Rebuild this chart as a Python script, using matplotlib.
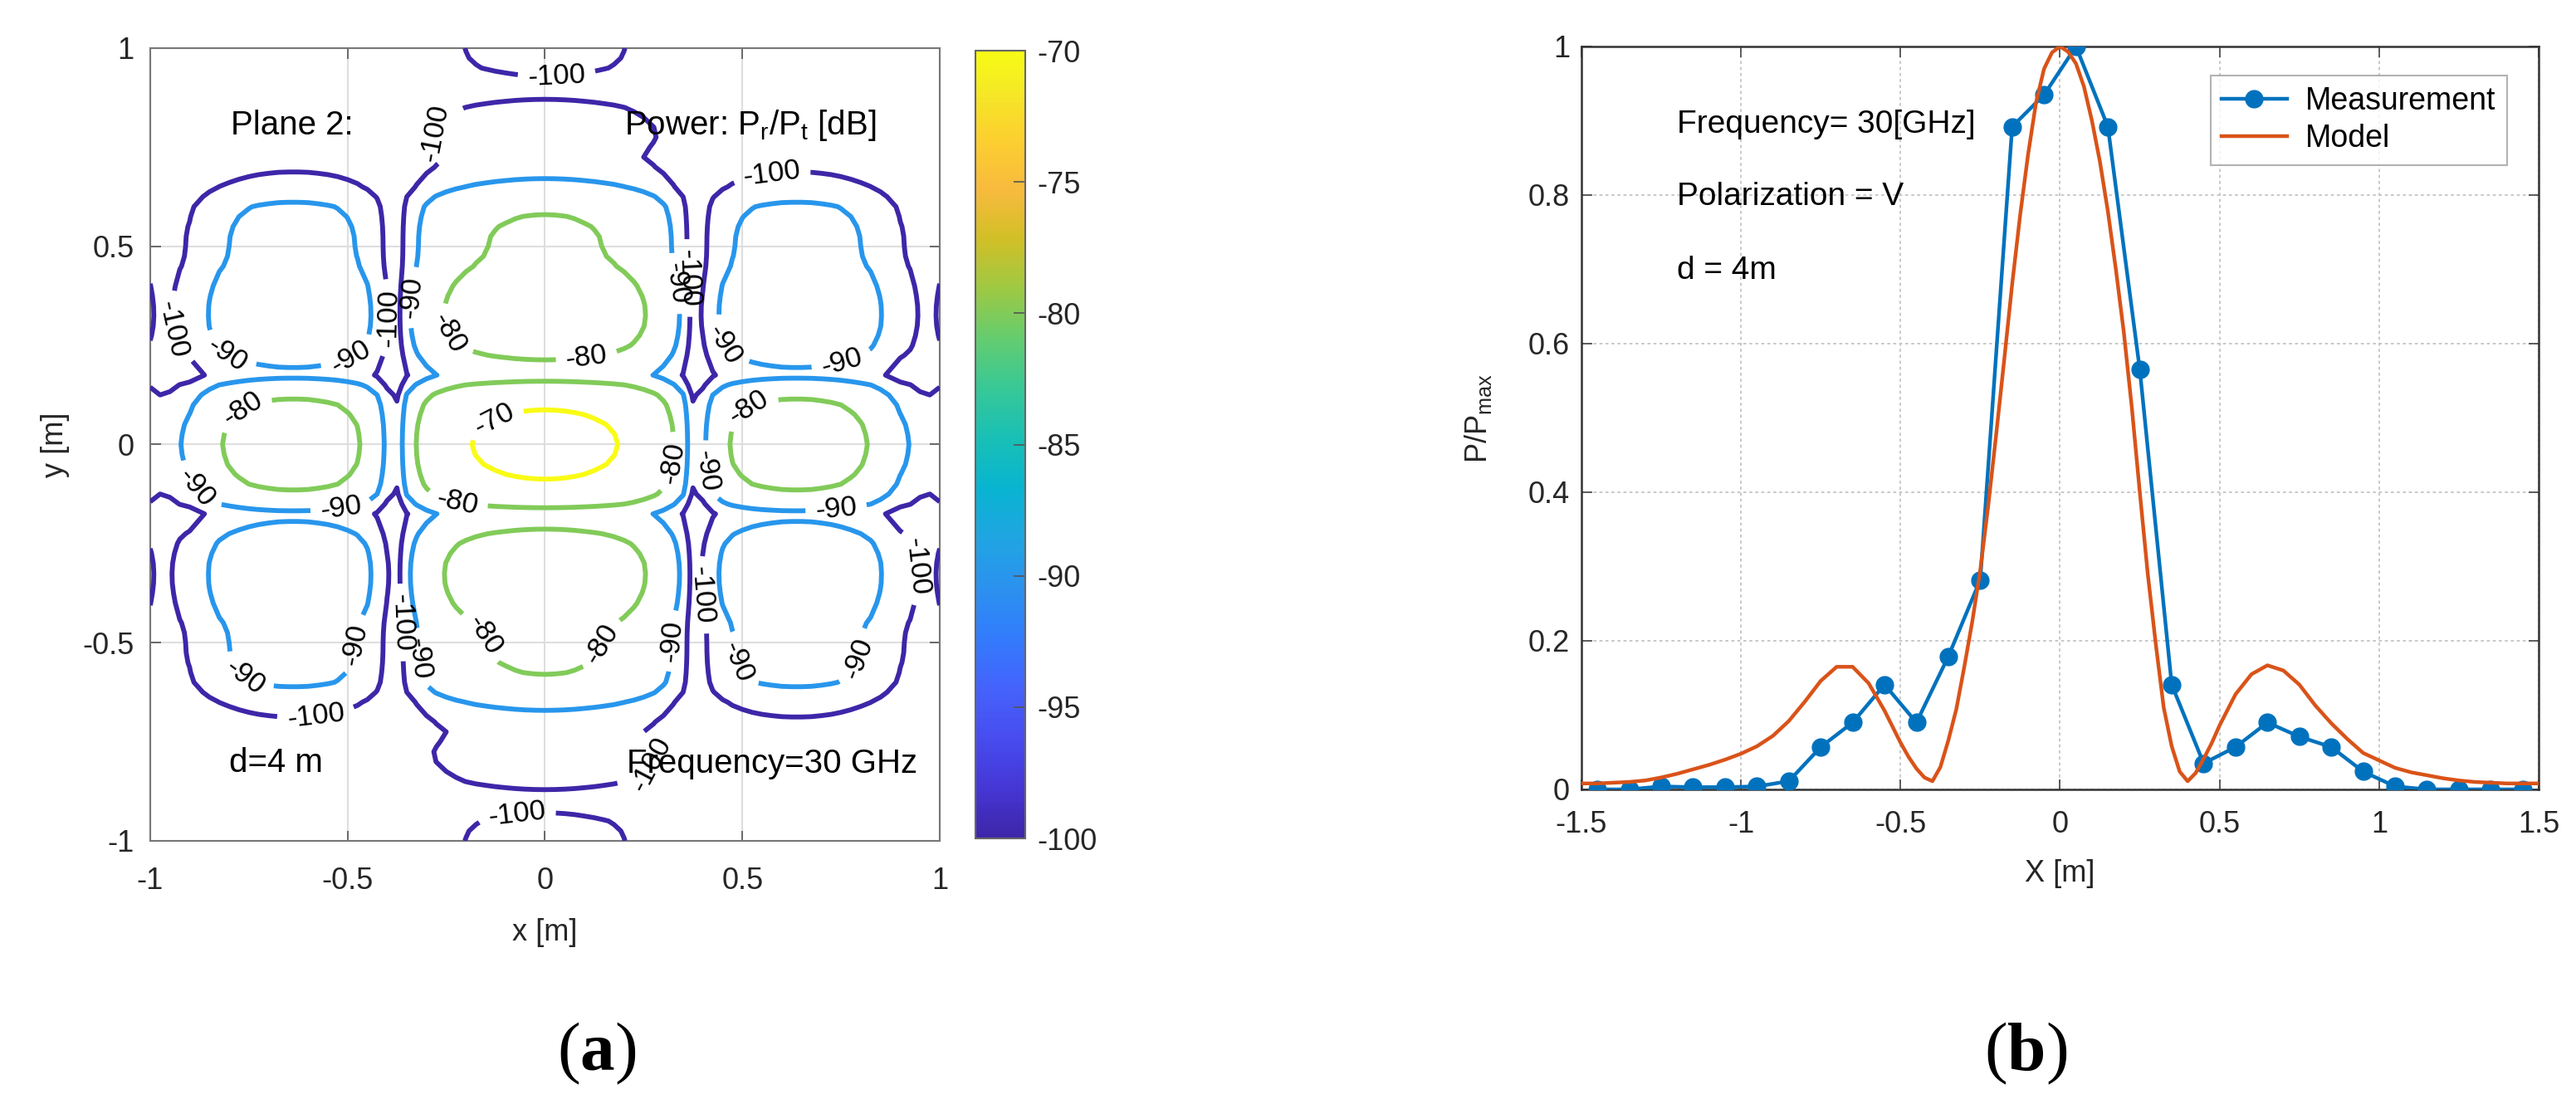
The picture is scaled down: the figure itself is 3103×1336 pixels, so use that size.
import numpy as np
import matplotlib
matplotlib.use('Agg')
import matplotlib.pyplot as plt
from matplotlib.colors import LinearSegmentedColormap, Normalize
from matplotlib.cm import ScalarMappable

plt.rcParams['font.family'] = ['Liberation Sans', 'DejaVu Sans']
plt.rcParams['mathtext.fontset'] = 'custom'
plt.rcParams['mathtext.rm'] = 'Liberation Serif'
plt.rcParams['mathtext.bf'] = 'Liberation Serif:bold'

# ---- panel (a): power map, built from two cuts (dB relative to peak), x >= 0 / y >= 0
peak_db = -68.0
cut_step = 0.025
cut_x_db = [0.0, -0.04, -0.15, -0.33, -0.6, -0.9, -1.3, -1.75, -2.4, -3.3,
            -4.5, -6.1, -8.4, -11.8, -16.5, -28.5, -24.0, -17.0, -13.5, -11.5,
            -10.3, -9.4, -8.8, -8.4, -8.1, -8.0, -8.0, -8.1, -8.4, -8.8,
            -9.4, -10.2, -11.2, -12.4, -14.5, -17.5, -20.5, -22.2, -25.5, -27.0,
            -23.5]
cut_y_db = [0.0, -0.2, -0.6, -1.4, -2.6, -5.0, -9.5, -16.0, -13.4, -10.8,
            -9.0, -8.0, -7.4, -7.2, -7.3, -7.7, -8.3, -9.2, -10.1, -10.6,
            -10.8, -10.9, -11.2, -11.8, -12.8, -15.5, -19.5, -22.5, -25.5, -27.5,
            -26.5, -25.3, -25.8, -27.5, -29.5, -32.5, -36.0, -32.3, -30.5, -29.8,
            -29.5]
contour_levels = [-100, -90, -80, -70]
cbar_ticks = [-100, -95, -90, -85, -80, -75, -70]

# ---- panel (b): x-cut, measurement vs model
meas_x = [-1.45, -1.35, -1.25, -1.15, -1.05, -0.95, -0.85, -0.75, -0.65, -0.55,
          -0.45, -0.35, -0.25, -0.15, -0.05, 0.05, 0.15, 0.25, 0.35, 0.45,
          0.55, 0.65, 0.75, 0.85, 0.95, 1.05, 1.15, 1.25, 1.35, 1.45]
meas_y = [0.0, 0.0, 0.004, 0.003, 0.003, 0.004, 0.011, 0.057, 0.090, 0.141,
          0.090, 0.179, 0.282, 0.892, 0.935, 1.0, 0.892, 0.565, 0.141, 0.035,
          0.057, 0.090, 0.071, 0.057, 0.024, 0.004, 0.0, 0.0, 0.0, 0.0]
model_x = [-1.5, -1.45, -1.4, -1.35, -1.3, -1.25, -1.2, -1.15, -1.1, -1.05,
           -1.0, -0.95, -0.9, -0.85, -0.8, -0.75, -0.7, -0.65, -0.6, -0.55,
           -0.5, -0.475, -0.45, -0.425, -0.4, -0.375, -0.35, -0.325, -0.3, -0.275,
           -0.25, -0.225, -0.2, -0.175, -0.15, -0.125, -0.1, -0.075, -0.05, -0.025,
           0.0, 0.025, 0.05, 0.075, 0.1, 0.125, 0.15, 0.175, 0.2, 0.225,
           0.25, 0.275, 0.3, 0.325, 0.35, 0.375, 0.4, 0.425, 0.45, 0.475,
           0.5, 0.55, 0.6, 0.65, 0.7, 0.75, 0.8, 0.85, 0.9, 0.95,
           1.0, 1.05, 1.1, 1.15, 1.2, 1.25, 1.3, 1.35, 1.4, 1.45,
           1.5]
model_y = [0.008, 0.008, 0.009, 0.010, 0.012, 0.016, 0.021, 0.027, 0.033, 0.040,
           0.048, 0.058, 0.072, 0.092, 0.118, 0.146, 0.165, 0.165, 0.143, 0.106,
           0.063, 0.044, 0.028, 0.016, 0.011, 0.030, 0.066, 0.108, 0.165, 0.226,
           0.295, 0.382, 0.478, 0.578, 0.68, 0.773, 0.855, 0.925, 0.97, 0.992,
           1.0, 0.993, 0.977, 0.946, 0.90, 0.845, 0.778, 0.70, 0.615, 0.514,
           0.40, 0.29, 0.196, 0.11, 0.058, 0.024, 0.011, 0.022, 0.041, 0.062,
           0.086, 0.128, 0.155, 0.167, 0.160, 0.141, 0.113, 0.089, 0.068, 0.049,
           0.039, 0.029, 0.023, 0.019, 0.015, 0.012, 0.010, 0.009, 0.008, 0.008,
           0.008]

# where the contour labels sit (as in the original figure)
label_spots = [(0.03, 0.925), (-0.07, -0.94), (-0.247, 0.78), (0.363, 0.42), (0.575, 0.68),
               (-0.41, 0.32), (-0.945, 0.29), (-0.375, -0.45), (0.396, -0.38), (0.91, -0.31),
               (-0.58, -0.685), (0.256, -0.795),
               (-0.81, 0.22), (-0.495, 0.225), (-0.327, 0.37), (0.30, 0.40), (0.464, 0.257),
               (0.75, 0.215), (-0.878, -0.106), (-0.516, -0.164), (0.42, -0.066),
               (0.737, -0.156), (-0.75, -0.575), (-0.495, -0.503), (-0.314, -0.54),
               (0.31, -0.495), (0.49, -0.548), (0.773, -0.533),
               (-0.235, 0.284), (0.106, 0.215), (-0.755, 0.074), (0.527, 0.08),
               (0.316, -0.045), (-0.22, -0.135), (-0.152, -0.48), (0.142, -0.503),
               (-0.127, 0.06)]

# MATLAB parula (old) anchors
parula_colors = [(0.2422, 0.1504, 0.6603), (0.2706, 0.2147, 0.8364), (0.2813, 0.3006, 0.9414),
                 (0.2699, 0.3892, 0.9906), (0.1963, 0.4847, 0.9892), (0.1687, 0.5703, 0.9359),
                 (0.1248, 0.6459, 0.8883), (0.0297, 0.7082, 0.8163), (0.0964, 0.7500, 0.7120),
                 (0.2161, 0.7843, 0.5923), (0.3909, 0.8029, 0.4354), (0.6174, 0.7876, 0.2612),
                 (0.8203, 0.7498, 0.1535), (0.9728, 0.7298, 0.2394), (0.9892, 0.8136, 0.1885),
                 (0.9597, 0.9135, 0.1423), (0.9769, 0.9839, 0.0805)]
parula_pos = [0, 4, 8, 12, 16, 20, 24, 28, 32, 36, 40, 44, 48, 52, 56, 60, 63]
parula = LinearSegmentedColormap.from_list(
    'parula', [(p / 63.0, c) for p, c in zip(parula_pos, parula_colors)])

blue = (0.0, 0.447, 0.741)
red = (0.85, 0.325, 0.098)
tick_fs = 26

fig = plt.figure(figsize=(31.03, 13.36), dpi=100)

# ---------------- (a)
ax = fig.add_axes([0.0583, 0.2418, 0.3065, 0.7148])
half = np.round(np.arange(len(cut_x_db)) * cut_step, 3)
grid = np.concatenate([-half[:0:-1], half])
ax_db = np.array(cut_x_db)
ay_db = np.array(cut_y_db)
prof_x = np.concatenate([ax_db[:0:-1], ax_db])
prof_y = np.concatenate([ay_db[:0:-1], ay_db])
power = peak_db + prof_y[:, None] + prof_x[None, :]

norm = Normalize(vmin=-100, vmax=-70)
cs = ax.contour(grid, grid, power, levels=contour_levels, cmap=parula, norm=norm,
                linewidths=4.2, zorder=3)
ax.clabel(cs, fmt='%d', fontsize=25, inline=True, inline_spacing=12, colors='black',
          manual=label_spots)

ax.set_xlim(-1, 1)
ax.set_ylim(-1, 1)
ticks = [-1, -0.5, 0, 0.5, 1]
tick_txt = ['-1', '-0.5', '0', '0.5', '1']
ax.set_xticks(ticks)
ax.set_xticklabels(tick_txt)
ax.set_yticks(ticks)
ax.set_yticklabels(tick_txt)
ax.tick_params(direction='in', length=9, width=1.2, colors='#555555', labelcolor='#262626',
               labelsize=tick_fs, top=True, right=True)
ax.tick_params(axis='x', pad=22)
ax.tick_params(axis='y', pad=14)
ax.grid(True, color='#dedede', linewidth=1.5, zorder=0)
ax.set_axisbelow(True)
for sp in ax.spines.values():
    sp.set_color('#777777')
    sp.set_linewidth(1.5)
ax.set_xlabel('x [m]', fontsize=tick_fs, color='#262626', va='center')
ax.xaxis.set_label_coords(0.5, -0.116)
ax.set_ylabel('y [m]', fontsize=tick_fs, color='#262626', va='center')
ax.yaxis.set_label_coords(-0.12, 0.5)

txt_fs = 29
ax.text(-0.796, 0.805, 'Plane 2:', fontsize=txt_fs, va='center', zorder=5)
ax.text(0.2, 0.805, r'Power: P$_\mathregular{r}$/P$_\mathregular{t}$ [dB]', fontsize=txt_fs,
        va='center', zorder=5)
ax.text(-0.8, -0.803, 'd=4 m', fontsize=txt_fs, va='center', zorder=5)
ax.text(0.207, -0.805, 'Frequency=30 GHz', fontsize=txt_fs, va='center', zorder=5)

cax = fig.add_axes([0.3787, 0.244, 0.0193, 0.7103])
sm = ScalarMappable(norm=norm, cmap=parula)
cb = fig.colorbar(sm, cax=cax, ticks=cbar_ticks)
cb.ax.set_yticklabels([str(t) for t in cbar_ticks])
cb.ax.tick_params(direction='in', length=10, width=1.2, colors='#555555', labelcolor='#262626',
                  labelsize=tick_fs, pad=10)
cb.outline.set_edgecolor('#666666')
cb.outline.set_linewidth(1.5)

# ---------------- (b)
ax2 = fig.add_axes([0.6139, 0.2882, 0.3716, 0.6699])
ax2.plot(meas_x, meas_y, '-o', color=blue, linewidth=3.2, markersize=15, label='Measurement',
         zorder=3)
ax2.plot(model_x, model_y, '-', color=red, linewidth=3.2, label='Model', zorder=4)
ax2.set_xlim(-1.5, 1.5)
ax2.set_ylim(0, 1)
ax2.set_xticks([-1.5, -1, -0.5, 0, 0.5, 1, 1.5])
ax2.set_xticklabels(['-1.5', '-1', '-0.5', '0', '0.5', '1', '1.5'])
ax2.set_yticks([0, 0.2, 0.4, 0.6, 0.8, 1])
ax2.set_yticklabels(['0', '0.2', '0.4', '0.6', '0.8', '1'])
ax2.tick_params(direction='in', length=9, width=1.2, colors='#444444', labelcolor='#262626',
                labelsize=tick_fs, top=True, right=True)
ax2.tick_params(axis='x', pad=18)
ax2.tick_params(axis='y', pad=10)
ax2.grid(True, color='#c4c4c4', linewidth=1.3, linestyle=(0, (2, 2)), zorder=0)
for sp in ax2.spines.values():
    sp.set_color('#333333')
    sp.set_linewidth(1.8)
ax2.set_xlabel('X [m]', fontsize=tick_fs, color='#262626', va='center')
ax2.xaxis.set_label_coords(0.5, -0.113)
ax2.set_ylabel(r'P/P$_\mathregular{max}$', fontsize=tick_fs, color='#262626', va='center')
ax2.yaxis.set_label_coords(-0.108, 0.5)

ax2.text(-1.2, 0.895, 'Frequency= 30[GHz]', fontsize=28, va='center')
ax2.text(-1.2, 0.798, 'Polarization = V', fontsize=28, va='center')
ax2.text(-1.2, 0.698, 'd = 4m', fontsize=28, va='center')

leg = ax2.legend(loc='upper right', bbox_to_anchor=(0.967, 0.961), borderaxespad=0,
                 fontsize=27, frameon=True, fancybox=False, edgecolor='#a0a0a0',
                 handlelength=2.1, borderpad=0.35, labelspacing=0.25, handletextpad=0.6)
leg.get_frame().set_linewidth(1.5)

# panel captions
fig.text(0.2317, 0.0502, r'($\mathbf{a}$)', fontsize=60, ha='center', va='center',
         family=['Liberation Serif', 'DejaVu Serif'])
fig.text(0.7863, 0.0502, r'($\mathbf{b}$)', fontsize=60, ha='center', va='center',
         family=['Liberation Serif', 'DejaVu Serif'])

fig.savefig('out.png', dpi=100)
